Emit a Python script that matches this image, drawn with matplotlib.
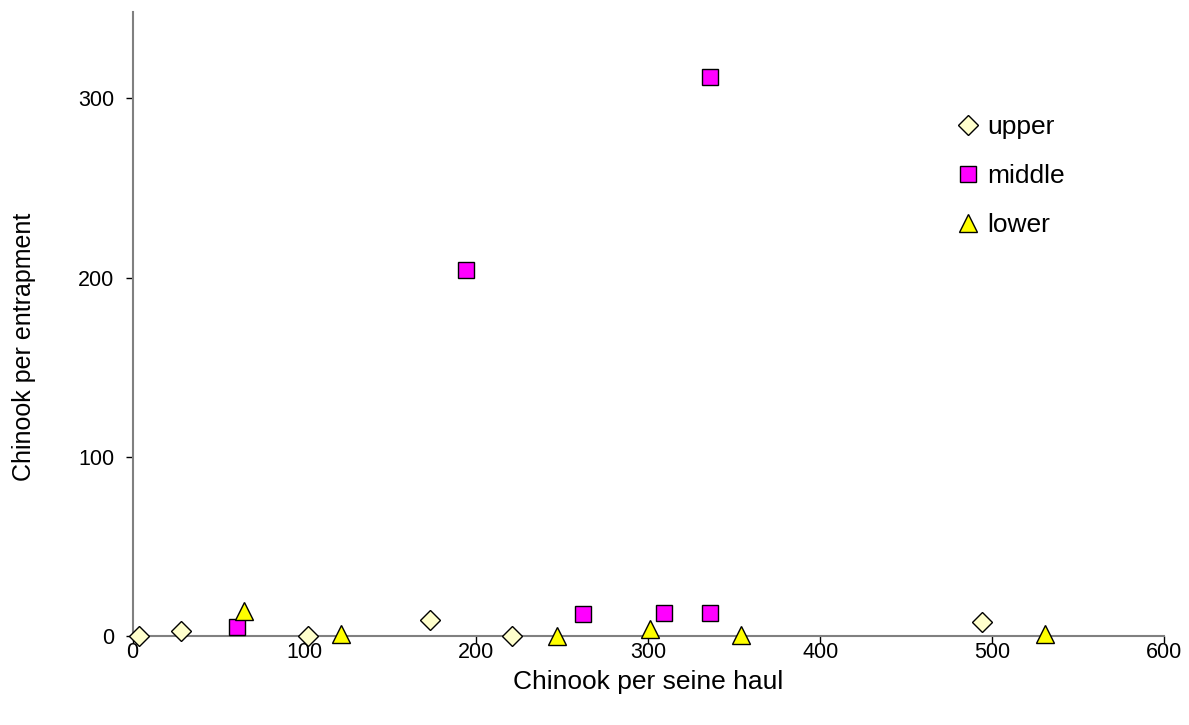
import matplotlib
matplotlib.use("Agg")
import matplotlib.pyplot as plt

plt.rcParams['font.family'] = ['Liberation Sans', 'DejaVu Sans']

# Chinook catch: seine haul vs. entrapment, by river section
upper_x = [4, 28, 102, 173, 221, 494]
upper_y = [0, 2.5, 0, 9, 0, 8]

middle_x = [61, 194, 262, 309, 336, 336]
middle_y = [5, 204, 12, 13, 13, 312]

lower_x = [65, 121, 247, 301, 354, 531]
lower_y = [14, 1, 0, 4, 0.5, 1]

x_ticks = [0, 100, 200, 300, 400, 500, 600]
y_ticks = [0, 100, 200, 300]

fig = plt.figure(figsize=(11.89, 7.25), dpi=100)
ax = fig.add_axes([0.1115, 0.1228, 0.979 - 0.1115, 0.983 - 0.1228])

ax.plot(upper_x, upper_y, linestyle='none', marker='D', markersize=10,
        markerfacecolor='#FFFFCC', markeredgecolor='black', markeredgewidth=1.0,
        label='upper', clip_on=False, zorder=3)
ax.plot(middle_x, middle_y, linestyle='none', marker='s', markersize=11.5,
        markerfacecolor='#FF00FF', markeredgecolor='black', markeredgewidth=1.0,
        label='middle', clip_on=False, zorder=3)
ax.plot(lower_x, lower_y, linestyle='none', marker='^', markersize=13,
        markerfacecolor='#FFFF00', markeredgecolor='black', markeredgewidth=1.0,
        label='lower', clip_on=False, zorder=3)

ax.set_xlim(0, 600)
ax.set_ylim(0, 348)
ax.set_xticks(x_ticks)
ax.set_yticks(y_ticks)

for side in ('top', 'right'):
    ax.spines[side].set_visible(False)
for side in ('left', 'bottom'):
    ax.spines[side].set_color('#808080')
    ax.spines[side].set_linewidth(1.5)

ax.tick_params(axis='both', direction='out', length=5, width=1, color='black',
               labelsize=15.5)
ax.tick_params(axis='x', pad=-1)
ax.tick_params(axis='y', pad=8)

ax.set_xlabel('Chinook per seine haul', fontsize=19)
ax.xaxis.set_label_coords(0.5, -0.055)
ax.set_ylabel('Chinook per entrapment', fontsize=18)
ax.yaxis.set_label_coords(-0.094, 0.463)

ax.legend(loc='upper left', bbox_to_anchor=(0.8, 0.835), frameon=False,
          fontsize=19, handlelength=0.8, handletextpad=0.3, labelspacing=0.95,
          borderpad=0, borderaxespad=0)

fig.savefig('out.png', dpi=100)
